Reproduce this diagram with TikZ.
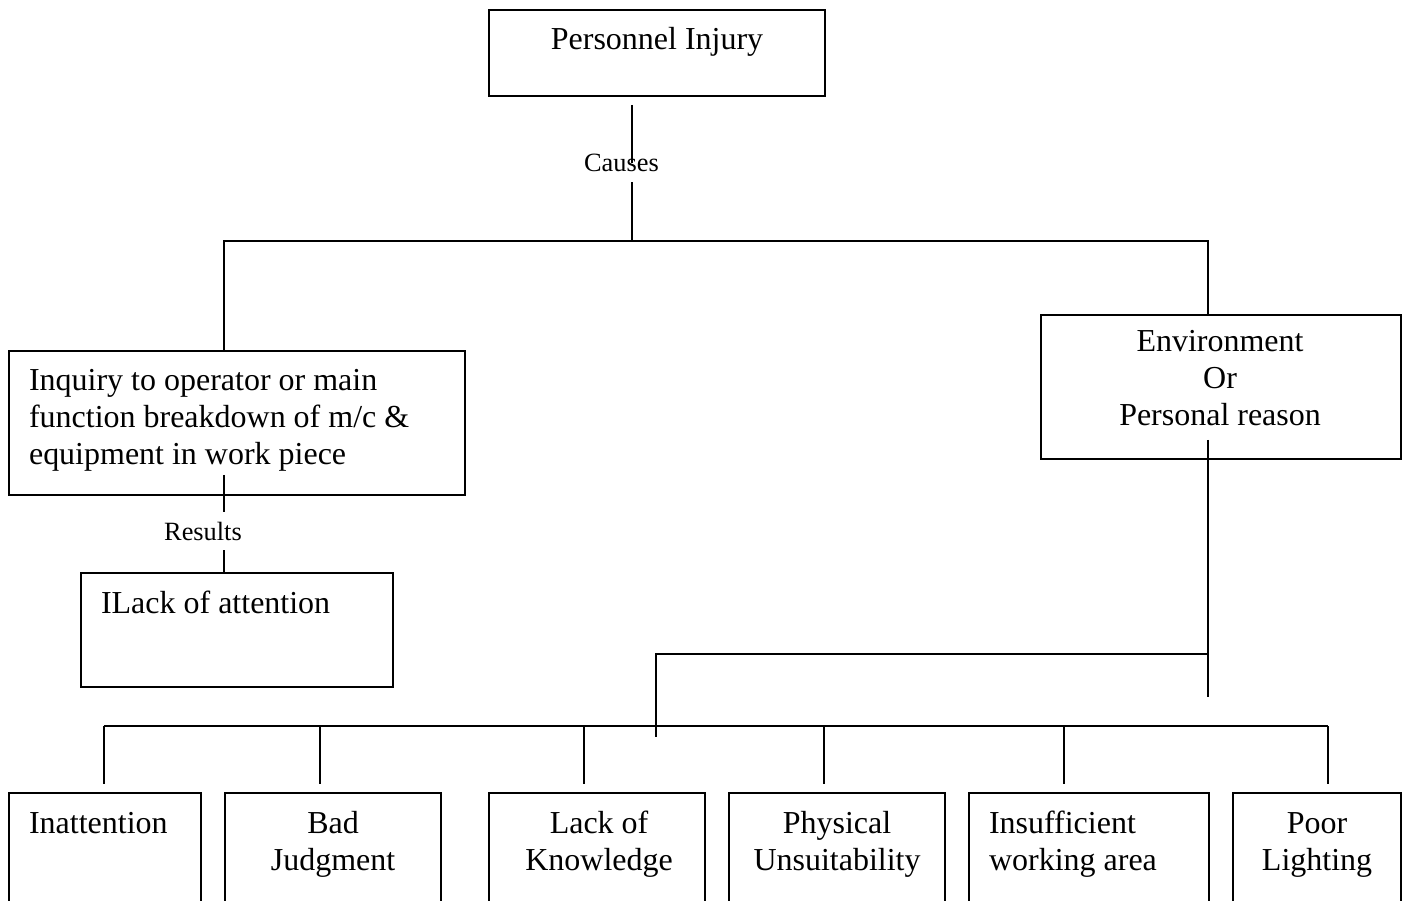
\documentclass[tikz,border=0pt]{standalone}
\usepackage{fontspec}
\setmainfont{Liberation Serif}
\usetikzlibrary{calc,positioning}

\begin{document}
\begin{tikzpicture}[line width=0.6pt,
    box/.style={draw, rectangle, anchor=north west, inner sep=0pt},
    txt/.style={inner sep=0pt, font=\fontsize{9.1}{10.6}\selectfont},
    tag/.style={inner sep=2.5pt, font=\fontsize{7.5}{9}\selectfont}]
\clip (0,0) rectangle (14.05,-9.01);

% boxes
\node[box, minimum width=3.36cm, minimum height=0.86cm] (injury) at (4.88,-0.09) {};
\node[box, minimum width=4.56cm, minimum height=1.44cm] (inq) at (0.08,-3.50) {};
\node[box, minimum width=3.12cm, minimum height=1.14cm] (lack) at (0.80,-5.72) {};
\node[box, minimum width=3.60cm, minimum height=1.44cm] (env) at (10.40,-3.14) {};
\foreach \n/\x/\w in {inatt/0.08/1.92, judg/2.24/2.16, know/4.88/2.16,
                      phys/7.28/2.16, area/9.68/2.40, light/12.32/1.68}
  \node[box, minimum width=\w cm, minimum height=1.4cm] (\n) at (\x,-7.92) {};

% texts (base = last line)
\node[txt, anchor=base] (injurytxt) at ([yshift=-0.41cm]injury.north) {Personnel Injury};
\node[txt, anchor=base west, align=left] (inqtxt) at ([xshift=0.2cm,yshift=-1.15cm]inq.north west)
  {Inquiry to operator or main\\function breakdown of m/c \&\\equipment in work piece};
\node[txt, anchor=base west] (lacktxt) at ([xshift=0.2cm,yshift=-0.41cm]lack.north west) {ILack of attention};
\node[txt, anchor=base, align=center] (envtxt) at ([xshift=-0.01cm,yshift=-1.12cm]env.north)
  {Environment\\Or\\Personal reason};
\node[txt, anchor=base west] (inatttxt) at ([xshift=0.2cm,yshift=-0.41cm]inatt.north west) {Inattention};
\node[txt, anchor=base, align=center] (judgtxt) at ([yshift=-0.79cm]judg.north) {Bad\\Judgment};
\node[txt, anchor=base, align=center] (knowtxt) at ([xshift=0.02cm,yshift=-0.79cm]know.north) {Lack of\\Knowledge};
\node[txt, anchor=base, align=center] (phystxt) at ([yshift=-0.79cm]phys.north) {Physical\\Unsuitability};
\node[txt, anchor=base west, align=left] (areatxt) at ([xshift=0.2cm,yshift=-0.79cm]area.north west) {Insufficient\\working area};
\node[txt, anchor=base, align=center] (lighttxt) at ([yshift=-0.79cm]light.north) {Poor\\Lighting};

\node[tag, anchor=base] (causes) at (6.215,-1.72) {Causes};
\node[tag, anchor=base] (results) at (2.03,-5.40) {Results};

% connectors
\coordinate (stem) at (6.32,-1.05);
\coordinate (fork) at (6.32,-2.41);
\coordinate (lstem) at (2.24,-4.75);
\coordinate (estem) at (12.08,-4.40);
\coordinate (ebot) at (12.08,-6.97);
\coordinate (kink) at (6.56,-6.54);
\coordinate (kbot) at (6.56,-7.37);
\coordinate (busl) at (1.04,-7.26);
\coordinate (busr) at (13.28,-7.26);

\draw (stem) -- (stem |- causes.center);
\draw (stem |- causes.south) -- (fork);
\draw (lstem |- inq.north) |- (fork) -| (estem |- env.north);
\draw (lstem) -- (lstem |- results.north);
\draw (lstem |- results.south) -- (lstem |- lack.north);
\draw (estem) -- (ebot);
\draw (estem |- kink) -- (kink) -- (kbot);
\draw (busl) -- (busr);
\foreach \x in {1.04,3.20,5.84,8.24,10.64,13.28}
  \draw (\x,-7.26) -- ++(0,-0.58);
\end{tikzpicture}
\end{document}
